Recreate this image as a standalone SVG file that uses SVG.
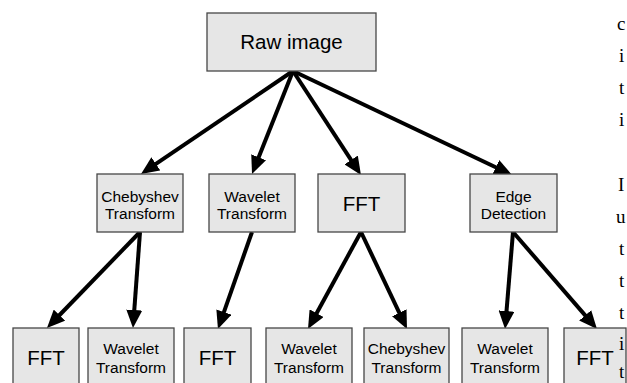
<svg xmlns="http://www.w3.org/2000/svg" width="627" height="383" viewBox="0 0 627 383">
<style>
.box{fill:#e6e6e6;stroke:#474747;stroke-width:1.3}
.big{font-family:"Liberation Sans",Arial,sans-serif;font-size:20.5px;fill:#000;text-anchor:middle}
.sm{font-family:"Liberation Sans",Arial,sans-serif;font-size:15.5px;fill:#000;text-anchor:middle}
.edge{stroke:#000;stroke-width:4;fill:none;marker-end:url(#ah)}
.pg{font-family:"Liberation Serif","Times New Roman",serif;font-size:19px;fill:#000}
</style>
<defs>
<marker id="ah" markerUnits="userSpaceOnUse" markerWidth="20" markerHeight="16" refX="4" refY="8" orient="auto">
<path d="M0,0 L18,8 L0,16 z" fill="#000"/>
</marker>
</defs>
<rect width="627" height="383" fill="#fff"/>
<g id="connectors">
<line class="edge" x1="293" y1="71" x2="152.6" y2="166.1"/>
<line class="edge" x1="293" y1="71" x2="257.2" y2="161.0"/>
<line class="edge" x1="293" y1="71" x2="353.3" y2="163.3"/>
<line class="edge" x1="293" y1="71" x2="499.4" y2="169.0"/>
<line class="edge" x1="140" y1="232" x2="56.7" y2="318.0"/>
<line class="edge" x1="140" y1="232" x2="134.0" y2="314.0"/>
<line class="edge" x1="252" y1="232" x2="222.6" y2="315.8"/>
<line class="edge" x1="361" y1="232" x2="314.7" y2="316.7"/>
<line class="edge" x1="361" y1="232" x2="401.0" y2="316.4"/>
<line class="edge" x1="513" y1="232" x2="506.2" y2="315.0"/>
<line class="edge" x1="513" y1="232" x2="587.8" y2="318.4"/>
</g>
<g id="raw"><rect class="box" x="207" y="13" width="169" height="58"/><text class="big" x="291.5" y="48.5">Raw image</text></g>
<g id="cheb"><rect class="box" x="97" y="174" width="86" height="58"/><text class="sm" x="140" y="201.5">Chebyshev</text><text class="sm" x="140" y="219">Transform</text></g>
<g id="wav"><rect class="box" x="209" y="174" width="86" height="58"/><text class="sm" x="252" y="201.5">Wavelet</text><text class="sm" x="252" y="219">Transform</text></g>
<g id="fft"><rect class="box" x="318" y="174" width="87" height="58"/><text class="big" x="361.5" y="211">FFT</text></g>
<g id="edgedet"><rect class="box" x="470" y="174" width="87" height="58"/><text class="sm" x="513.5" y="201.5">Edge</text><text class="sm" x="513.5" y="219">Detection</text></g>
<g id="cheb-fft"><rect class="box" x="13" y="328" width="66" height="62"/><text class="big" x="46" y="365">FFT</text></g>
<g id="cheb-wav"><rect class="box" x="88" y="328" width="86" height="62"/><text class="sm" x="131" y="354">Wavelet</text><text class="sm" x="131" y="372.5">Transform</text></g>
<g id="wav-fft"><rect class="box" x="184" y="328" width="67" height="62"/><text class="big" x="217.5" y="365">FFT</text></g>
<g id="fft-wav"><rect class="box" x="266" y="328" width="86" height="62"/><text class="sm" x="309" y="354">Wavelet</text><text class="sm" x="309" y="372.5">Transform</text></g>
<g id="fft-cheb"><rect class="box" x="364" y="328" width="85" height="62"/><text class="sm" x="406.5" y="354">Chebyshev</text><text class="sm" x="406.5" y="372.5">Transform</text></g>
<g id="edge-wav"><rect class="box" x="462" y="328" width="86" height="62"/><text class="sm" x="505" y="354">Wavelet</text><text class="sm" x="505" y="372.5">Transform</text></g>
<g id="edge-fft"><rect class="box" x="564" y="328" width="62" height="62"/><text class="big" x="595" y="365">FFT</text></g>
<g id="page-text">
<text class="pg" x="617" y="30">c</text>
<text class="pg" x="619" y="62">i</text>
<text class="pg" x="619" y="94">t</text>
<text class="pg" x="619" y="126">i</text>
<text class="pg" x="618" y="191">I</text>
<text class="pg" x="616" y="223">u</text>
<text class="pg" x="619" y="255">t</text>
<text class="pg" x="619" y="287">t</text>
<text class="pg" x="619" y="319">t</text>
<text class="pg" x="619" y="350">i</text>
<text class="pg" x="619" y="378">t</text>
</g>
</svg>
